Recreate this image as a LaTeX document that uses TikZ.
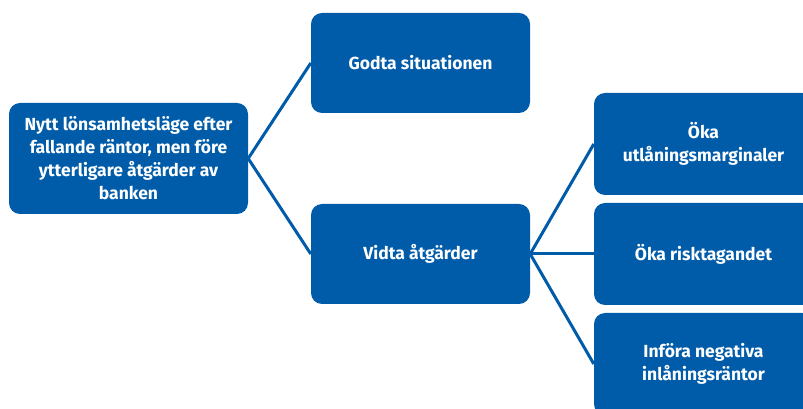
\documentclass[tikz,border=0pt]{standalone}
\usepackage{fontspec}
\setmainfont{Fira Sans}
\definecolor{boxblue}{HTML}{005CA9}
\begin{document}
\begin{tikzpicture}[x=1pt,y=1pt,
  box/.style={fill=boxblue, rounded corners=11pt, text=white, align=center,
    font=\fontsize{17.5}{23}\selectfont\bfseries, inner sep=0pt, anchor=center},
  link/.style={draw=boxblue, line width=3pt}]
\useasboundingbox (0,0) rectangle (803,409);
\clip (0,0) rectangle (803,409);
\node[box, minimum width=239pt, minimum height=111pt] (start) at (128.5,250.5)
  {Nytt lönsamhetsläge efter\\fallande räntor, men före\\ytterligare åtgärder av\\banken};
\node[box, minimum width=219pt, minimum height=100pt] (godta) at (420.5,346) {Godta situationen};
\node[box, minimum width=219pt, minimum height=100pt] (vidta) at (420.5,155) {Vidta åtgärder};
\node[box, minimum width=219pt, minimum height=102pt] (utl) at (703.5,265) {Öka\\utlåningsmarginaler};
\node[box, minimum width=219pt, minimum height=102pt] (risk) at (703.5,155) {Öka risktagandet};
\node[box, minimum width=219pt, minimum height=102pt] (neg) at (703.5,45) {Införa negativa\\inlåningsräntor};
\draw[link] (start.east) -- (godta.west);
\draw[link] (start.east) -- (vidta.west);
\draw[link] (vidta.east) -- (utl.west);
\draw[link] (vidta.east) -- (risk.west);
\draw[link] (vidta.east) -- (neg.west);
\end{tikzpicture}
\end{document}
